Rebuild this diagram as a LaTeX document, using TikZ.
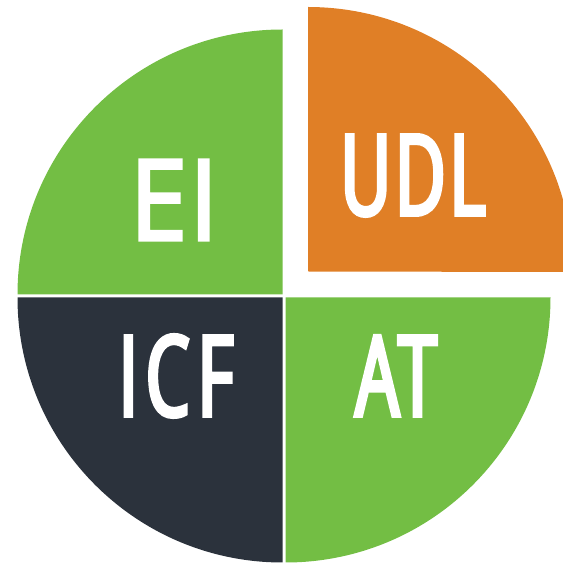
\documentclass[tikz,border=0pt]{standalone}
\usepackage{fontspec}
\setmainfont{Open Sans}
\newfontfamily\narrowface{Open Sans}[FakeStretch=0.62,FakeBold=3.5,LetterSpace=3.5]
\newfontfamily\spacedface{Open Sans}[FakeStretch=0.62,FakeBold=3.5,LetterSpace=7]
\newfontfamily\wideface{Open Sans}[FakeStretch=0.92,FakeBold=3,LetterSpace=2]
\definecolor{grn}{HTML}{73BE44}
\definecolor{org}{HTML}{E07F26}
\definecolor{nvy}{HTML}{2B323C}
\tikzset{lbl/.style={text=white,inner sep=0pt,anchor=base}}
\begin{document}
\begin{tikzpicture}[x=1pt,y=1pt]
\useasboundingbox (0,0) rectangle (563,563);
\fill[grn] (282.5,533.5) arc[start angle=90,end angle=180,radius=265] -- (282.5,268.5) -- cycle;
\fill[nvy] (282.5,265.5) -- (17.5,265.5) arc[start angle=180,end angle=270,radius=265] -- cycle;
\fill[grn] (285.5,265.5) -- (550.5,265.5) arc[start angle=0,end angle=-90,radius=265] -- cycle;
\begin{scope}
\clip (0,0) rectangle (563,563);
\fill[org] (308,556) arc[start angle=90,end angle=0,radius=265] -- (308,291.5) -- cycle;
\end{scope}
\node[lbl,font=\wideface\fontsize{112}{112}\selectfont] (ei) at (174,323) {EI};
\node[lbl,font=\narrowface\fontsize{112}{112}\selectfont] (udl) at (413,348) {UDL};
\node[lbl,font=\spacedface\fontsize{112}{112}\selectfont] (icf) at (176,147) {ICF};
\node[lbl,font=\narrowface\fontsize{112}{112}\selectfont] (at) at (396,147) {AT};
\end{tikzpicture}
\end{document}
